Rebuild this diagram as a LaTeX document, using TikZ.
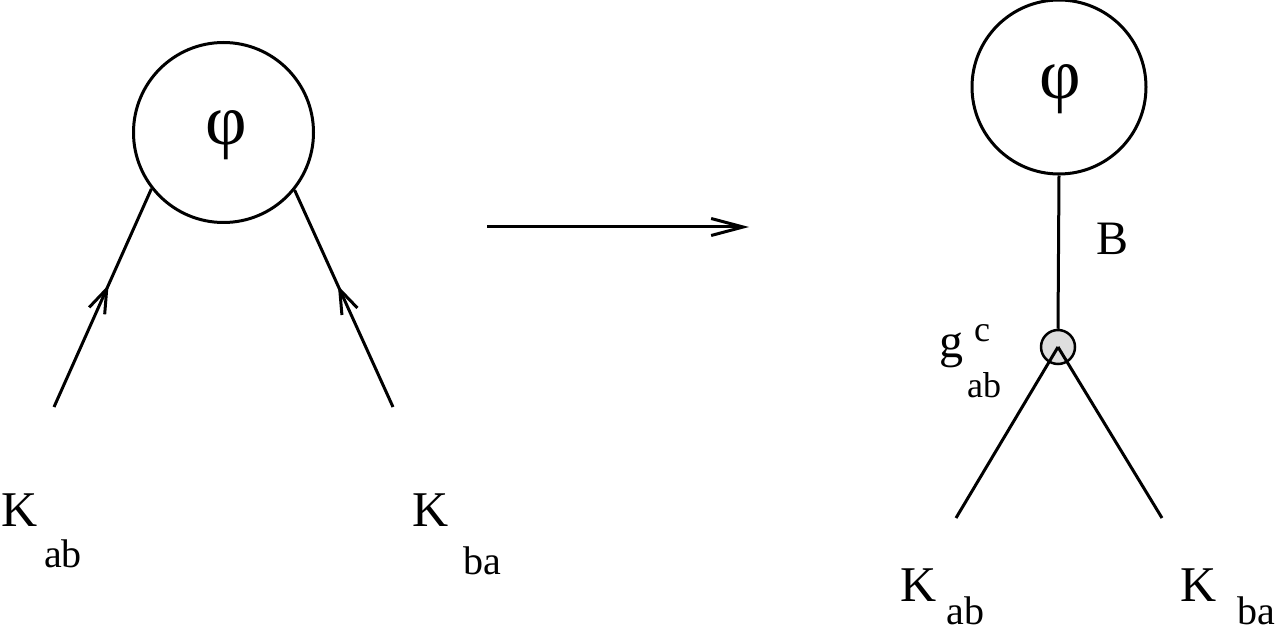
\documentclass[tikz,border=0pt]{standalone}
\usepackage{fontspec}
\setmainfont{Liberation Serif}
\usetikzlibrary{arrows.meta,decorations.markings}
\tikzset{
  ln/.style={line width=3pt},
  bigc/.style={draw,circle,line width=3pt,minimum size=180pt,inner sep=0pt},
  phil/.style={inner sep=0pt,font=\fontsize{72}{76}\selectfont},
  vert/.style={draw,circle,line width=2.5pt,fill=black!13,minimum size=34pt,inner sep=0pt},
  lab/.style={inner sep=0pt,font=\fontsize{50}{56}\selectfont},
  sub/.style={inner sep=0pt,font=\fontsize{40}{44}\selectfont},
  subg/.style={inner sep=0pt,font=\fontsize{36}{40}\selectfont},
  midarr/.style={postaction={decorate},decoration={markings,
     mark=at position #1 with {\arrow{Straight Barb[length=24pt,width=17pt,line width=3pt]}}}}
}
\begin{document}
\begin{tikzpicture}[x=1pt,y=-1pt]
\useasboundingbox (0,0) rectangle (1283,631);
% left diagram
\node[bigc] (circL) at (223.5,132.5) {};
\node[phil] (phiL) at (226,135) {φ};
\coordinate (eL1) at (54,407);
\coordinate (eL2) at (393,407);
\draw[ln,midarr=0.56] (eL1) -- (circL.218.8);
\draw[ln,midarr=0.56] (eL2) -- (circL.321.7);
\node[lab] (KabL) at (19.5,510.5) {K};
\node[sub] (abL) at (63,553.5) {ab};
\node[lab] (KbaL) at (430.5,510.5) {K};
\node[sub] (baL) at (482.5,560.5) {ba};
% arrow
\coordinate (aS) at (487,227);
\coordinate (aE) at (749,227);
\draw[ln,-{Straight Barb[length=32pt,width=17pt,line width=3pt]}] (aS) -- (aE);
% right diagram
\node[bigc,minimum size=174pt] (circR) at (1059,87) {};
\node[phil] (phiR) at (1060,89) {φ};
\node[vert] (v) at (1058,347) {};
\coordinate (eR1) at (956,518);
\coordinate (eR2) at (1162,518);
\draw[ln] (circR.south) -- (v.north);
\draw[ln] (v.center) -- (eR1);
\draw[ln] (v.center) -- (eR2);
\node[lab,font=\fontsize{48}{52}\selectfont] (B) at (1112,239) {B};
\node[lab,font=\fontsize{48}{52}\selectfont] (g) at (951,350) {g};
\node[subg] (c) at (982,333) {c};
\node[subg] (abg) at (984,385) {ab};
\node[lab] (KabR) at (918.5,585) {K};
\node[sub] (abR) at (965.5,611) {ab};
\node[lab] (KbaR) at (1198.5,585) {K};
\node[sub] (baR) at (1256.5,611) {ba};
\end{tikzpicture}
\end{document}
